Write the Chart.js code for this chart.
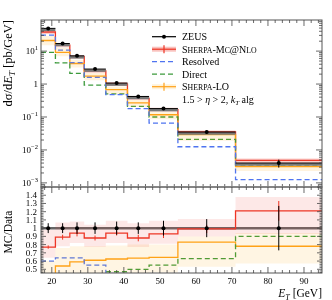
<!DOCTYPE html>
<html lang="en">
<head>
<meta charset="UTF-8">
<title>ZEUS inclusive jet cross section vs E_T</title>
<script src="https://cdn.jsdelivr.net/npm/chart.js"></script>
<style>
  body { margin: 0; background: #fff; }
  #wrap { position: relative; width: 332px; height: 300px; }
  #wrap canvas { position: absolute; left: 0; top: 0; }
</style>
</head>
<body>
<div id="wrap">
  <canvas id="mainChart" width="332" height="300"></canvas>
  <canvas id="ratioChart" width="332" height="300"></canvas>
</div>
<script>
// bin edges in E_T [GeV]
const edges = [17, 21, 25, 29, 35, 41, 47, 55, 71, 95];

// main panel: dsigma/dE_T [pb/GeV]
const zeus     = [49, 17, 7.2, 2.85, 1.07, 0.42, 0.18, 0.035, 0.004];
const zeusErr  = [0.06, 0.06, 0.07, 0.07, 0.08, 0.07, 0.09, 0.11, 0.27]; // relative
const mcnlo    = [38, 15.1, 6.8, 2.5, 1.0, 0.37, 0.167, 0.035, 0.0048];
const mcnloLo  = [33, 13.2, 5.9, 2.2, 0.87, 0.33, 0.146, 0.031, 0.0038];
const mcnloHi  = [41, 16.6, 7.6, 2.8, 1.15, 0.43, 0.19, 0.039, 0.0055];
const resolved = [30.5, 10.7, 4.5, 1.6, 0.48, 0.18, 0.065, 0.0125, 0.00126];
const direct   = [9.2, 4.4, 2.1, 0.93, 0.5, 0.21, 0.1, 0.021, 0.0035];
const sherpaLO = [21, 9.1, 4.2, 1.75, 0.68, 0.27, 0.117, 0.029, 0.0031];
const loLo     = [15, 7, 3.2, 1.3, 0.5, 0.2, 0.085, 0.019, 0.0023];
const loHi     = [29, 12.6, 5.5, 2.2, 0.85, 0.33, 0.145, 0.031, 0.0037];

// ratio panel: MC / Data
const rMcnlo    = [0.77, 0.89, 0.94, 0.88, 0.94, 0.88, 0.93, 0.99, 1.21];
const rMcnloErr = [0.02, 0.03, 0.04, 0.03, 0.03, 0.04, 0.05, 0.05, 0.12];
const rMcnloLo  = [0.64, 0.78, 0.82, 0.77, 0.82, 0.77, 0.81, 0.9, 0.93];
const rMcnloHi  = [0.98, 1.07, 1.08, 1.04, 1.09, 1.06, 1.09, 1.11, 1.38];
const rLO       = [0.42, 0.54, 0.59, 0.61, 0.625, 0.635, 0.645, 0.83, 0.78];
const rLOLo     = [0.3, 0.4, 0.43, 0.44, 0.45, 0.45, 0.46, 0.53, 0.57];
const rLOHi     = [0.6, 0.76, 0.78, 0.78, 0.79, 0.8, 0.8, 0.9, 0.94];
const rResolved = [0.6, 0.64, 0.64, 0.55, 0.45, 0.43, 0.36, 0.36, 0.31];
const rDirect   = [0.19, 0.26, 0.29, 0.33, 0.47, 0.5, 0.55, 0.63, 0.9];

// tick labels
const xTicks = [20, 30, 40, 50, 60, 70, 80, 90];
const yDecades = [-3, -2, -1, 0, 1];
const ratioTicks = [0.5, 0.6, 0.7, 0.8, 0.9, 1.0, 1.1, 1.2, 1.3, 1.4];

const RED = '#ee3322', ORANGE = '#ffa21a', BLUE = '#4f74f0', GREEN = '#3c9a3c';
const SERIF = '"Liberation Serif", "DejaVu Serif", serif';
const f = (size, style) => (style || '') + ' ' + size + 'px ' + SERIF;

// turn bin values into points for a stepped line
function steps(vals) {
  return edges.map((e, i) => ({ x: e, y: vals[Math.min(i, vals.length - 1)] }));
}
function line(vals, color, dash) {
  return { data: steps(vals), borderColor: color, borderWidth: 1.3, borderDash: dash || [],
           stepped: true, pointRadius: 0, fill: false };
}
function band(lo, hi, color) {
  return [
    { data: steps(lo), borderWidth: 0, stepped: true, pointRadius: 0, fill: false },
    { data: steps(hi), borderWidth: 0, stepped: true, pointRadius: 0, fill: '-1', backgroundColor: color }
  ];
}

// text made of runs (italic, sub/superscripts)
function runsWidth(ctx, runs) {
  let w = 0;
  runs.forEach(r => { ctx.font = r.font; w += ctx.measureText(r.t).width; });
  return w;
}
function drawRuns(ctx, runs, x, y, align) {
  const w = runsWidth(ctx, runs);
  let cx = align === 'right' ? x - w : align === 'center' ? x - w / 2 : x;
  ctx.textAlign = 'left';
  ctx.textBaseline = 'alphabetic';
  runs.forEach(r => {
    ctx.font = r.font;
    ctx.fillText(r.t, cx, y + (r.dy || 0));
    cx += ctx.measureText(r.t).width;
  });
}
function smallCaps(parts, size) {
  return parts.map(p => ({ t: p[0], font: f(p[1] ? size * 0.78 : size) }));
}

function tickLine(ctx, x0, y0, x1, y1) {
  ctx.beginPath(); ctx.moveTo(x0, y0); ctx.lineTo(x1, y1); ctx.stroke();
}

function xTicksDraw(ctx, x, a, withTop) {
  ctx.strokeStyle = '#444'; ctx.lineWidth = 0.8;
  for (let v = 18; v <= 94; v += 2) {
    const px = x.getPixelForValue(v);
    const len = v % 10 === 0 ? 6 : 3;
    tickLine(ctx, px, a.bottom, px, a.bottom - len);
    if (withTop) tickLine(ctx, px, a.top, px, a.top + len);
  }
}

const mainPlugin = {
  id: 'mainDecor',
  afterDatasetsDraw(chart) {
    const { ctx, chartArea: a, scales: { x, y } } = chart;
    ctx.save();
    ctx.beginPath(); ctx.rect(a.left, a.top, a.right - a.left, a.bottom - a.top); ctx.clip();
    zeus.forEach((v, i) => {
      const x0 = x.getPixelForValue(edges[i]), x1 = x.getPixelForValue(edges[i + 1]);
      const xc = x.getPixelForValue((edges[i] + edges[i + 1]) / 2);
      const py = y.getPixelForValue(v);
      ctx.strokeStyle = '#777'; ctx.lineWidth = 2.5;
      tickLine(ctx, x0, py + 1.5, x1, py + 1.5);
      ctx.strokeStyle = '#000'; ctx.lineWidth = 1;
      tickLine(ctx, x0, py, x1, py);
      tickLine(ctx, xc, y.getPixelForValue(v * (1 + zeusErr[i])), xc, y.getPixelForValue(v * (1 - zeusErr[i])));
      ctx.fillStyle = '#000';
      ctx.beginPath(); ctx.arc(xc, py, 2, 0, 2 * Math.PI); ctx.fill();
    });
    ctx.restore();
  },
  afterDraw(chart) {
    const { ctx, chartArea: a, scales: { x, y } } = chart;
    ctx.save();
    // frame
    ctx.strokeStyle = '#555'; ctx.lineWidth = 1;
    ctx.strokeRect(a.left, a.top, a.right - a.left, a.bottom - a.top);
    xTicksDraw(ctx, x, a, true);
    // y ticks on both sides
    for (let n = -4; n <= 1; n++) {
      for (let k = 1; k <= 9; k++) {
        const v = k * Math.pow(10, n);
        if (v < y.min || v > y.max) continue;
        const py = y.getPixelForValue(v);
        const len = k === 1 ? 6 : 3;
        tickLine(ctx, a.left, py, a.left + len, py);
        tickLine(ctx, a.right, py, a.right - len, py);
      }
    }
    // y tick labels
    ctx.fillStyle = '#000';
    yDecades.forEach(n => {
      const py = y.getPixelForValue(Math.pow(10, n));
      const runs = n === 0 ? [{ t: '1', font: f(9) }]
        : [{ t: '10', font: f(9) }, { t: (n < 0 ? '\u2212' : '') + Math.abs(n), font: f(6.5), dy: -4 }];
      drawRuns(ctx, runs, 38, py + 3, 'right');
    });
    // y axis title
    ctx.save();
    ctx.translate(12, a.top);
    ctx.rotate(-Math.PI / 2);
    drawRuns(ctx, [
      { t: 'd\u03c3/d', font: f(12.5) }, { t: 'E', font: f(12.5, 'italic') },
      { t: 'T', font: f(9, 'italic'), dy: 2.5 }, { t: ' [pb/GeV]', font: f(12.5) }
    ], 0, 0, 'right');
    ctx.restore();

    // legend
    const lx0 = 152, lx1 = 176, tx = 182, fs = 10;
    const rows = [36.7, 49.2, 61.7, 74.2, 86.7, 99.2];
    ctx.lineWidth = 1.2;
    // ZEUS
    ctx.strokeStyle = '#000';
    tickLine(ctx, lx0, rows[0], lx1, rows[0]);
    ctx.beginPath(); ctx.arc((lx0 + lx1) / 2, rows[0], 2, 0, 2 * Math.PI); ctx.fill();
    // MC@NLO
    ctx.strokeStyle = 'rgba(238,80,70,0.35)'; ctx.lineWidth = 5;
    tickLine(ctx, lx0, rows[1], lx1, rows[1]);
    ctx.strokeStyle = RED; ctx.lineWidth = 1.2;
    tickLine(ctx, lx0, rows[1], lx1, rows[1]);
    tickLine(ctx, (lx0 + lx1) / 2, rows[1] - 4, (lx0 + lx1) / 2, rows[1] + 4);
    // Resolved / Direct
    ctx.setLineDash([5, 3]);
    ctx.strokeStyle = BLUE; tickLine(ctx, lx0, rows[2], lx1, rows[2]);
    ctx.strokeStyle = GREEN; tickLine(ctx, lx0, rows[3], lx1, rows[3]);
    ctx.setLineDash([]);
    // Sherpa LO
    ctx.strokeStyle = 'rgba(255,165,0,0.15)'; ctx.lineWidth = 5;
    tickLine(ctx, lx0, rows[4], lx1, rows[4]);
    ctx.strokeStyle = ORANGE; ctx.lineWidth = 1.2;
    tickLine(ctx, lx0, rows[4], lx1, rows[4]);
    tickLine(ctx, (lx0 + lx1) / 2, rows[4] - 4, (lx0 + lx1) / 2, rows[4] + 4);

    ctx.fillStyle = '#000';
    drawRuns(ctx, [{ t: 'ZEUS', font: f(fs) }], tx, rows[0] + 3.5, 'left');
    drawRuns(ctx, smallCaps([['S', 0], ['HERPA', 1], ['-M', 0], ['C', 1], ['@', 0], ['N', 0], ['LO', 1]], fs), tx, rows[1] + 3.5, 'left');
    drawRuns(ctx, [{ t: 'Resolved', font: f(fs) }], tx, rows[2] + 3.5, 'left');
    drawRuns(ctx, [{ t: 'Direct', font: f(fs) }], tx, rows[3] + 3.5, 'left');
    drawRuns(ctx, smallCaps([['S', 0], ['HERPA', 1], ['-LO', 0]], fs), tx, rows[4] + 3.5, 'left');
    drawRuns(ctx, [
      { t: '1.5 > ', font: f(fs) }, { t: '\u03b7', font: f(fs, 'italic') }, { t: ' > 2, ', font: f(fs) },
      { t: 'k', font: f(fs, 'italic') }, { t: 'T', font: f(7, 'italic'), dy: 2 }, { t: ' alg', font: f(fs) }
    ], tx, rows[5] + 3.5, 'left');
    ctx.restore();
  }
};

const ratioPlugin = {
  id: 'ratioDecor',
  beforeDatasetsDraw(chart) {
    const { ctx, chartArea: a, scales: { x, y } } = chart;
    ctx.save();
    const p1 = y.getPixelForValue(1);
    ctx.strokeStyle = '#666'; ctx.lineWidth = 2.5;
    tickLine(ctx, a.left, p1, a.right, p1);
    ctx.restore();
  },
  afterDatasetsDraw(chart) {
    const { ctx, chartArea: a, scales: { x, y } } = chart;
    ctx.save();
    ctx.beginPath(); ctx.rect(a.left, a.top, a.right - a.left, a.bottom - a.top); ctx.clip();
    rMcnlo.forEach((v, i) => {
      const xc = x.getPixelForValue((edges[i] + edges[i + 1]) / 2);
      ctx.strokeStyle = RED; ctx.lineWidth = 1;
      tickLine(ctx, xc, y.getPixelForValue(v + rMcnloErr[i]), xc, y.getPixelForValue(v - rMcnloErr[i]));
    });
    zeusErr.forEach((e, i) => {
      const xc = x.getPixelForValue((edges[i] + edges[i + 1]) / 2);
      const p1 = y.getPixelForValue(1);
      ctx.strokeStyle = '#000'; ctx.lineWidth = 1;
      tickLine(ctx, xc, y.getPixelForValue(1 + e), xc, y.getPixelForValue(1 - e));
      ctx.fillStyle = '#000';
      ctx.beginPath(); ctx.arc(xc, p1, 2, 0, 2 * Math.PI); ctx.fill();
    });
    ctx.restore();
  },
  afterDraw(chart) {
    const { ctx, chartArea: a, scales: { x, y } } = chart;
    ctx.save();
    ctx.strokeStyle = '#555'; ctx.lineWidth = 1;
    ctx.strokeRect(a.left, a.top, a.right - a.left, a.bottom - a.top);
    // separator between panels
    ctx.strokeStyle = '#888'; ctx.lineWidth = 1.6;
    tickLine(ctx, a.left, a.top, a.right, a.top);
    xTicksDraw(ctx, x, a, true);
    for (let j = 23; j <= 75; j++) {
      const v = j * 0.02;
      if (v < y.min || v > y.max) continue;
      const py = y.getPixelForValue(v);
      const len = j % 5 === 0 ? 5 : 2.5;
      tickLine(ctx, a.left, py, a.left + len, py);
      tickLine(ctx, a.right, py, a.right - len, py);
    }
    ctx.fillStyle = '#000';
    ratioTicks.forEach(v => {
      const py = y.getPixelForValue(v);
      drawRuns(ctx, [{ t: v === 1 ? '1' : v.toFixed(1), font: f(9) }], 37, py + 3, 'right');
    });
    xTicks.forEach(v => {
      drawRuns(ctx, [{ t: String(v), font: f(9) }], x.getPixelForValue(v), a.bottom + 11, 'center');
    });
    // axis titles
    drawRuns(ctx, [
      { t: 'E', font: f(11.5, 'italic') }, { t: 'T', font: f(8, 'italic'), dy: 2.5 }, { t: ' [GeV]', font: f(11.5) }
    ], a.right, 297, 'right');
    ctx.save();
    ctx.translate(12, (a.top + a.bottom) / 2 + 2);
    ctx.rotate(-Math.PI / 2);
    drawRuns(ctx, [{ t: 'MC/Data', font: f(11.5) }], 0, 0, 'center');
    ctx.restore();
    ctx.restore();
  }
};

const common = {
  responsive: false,
  animation: false,
  plugins: { legend: { display: false }, tooltip: { enabled: false } },
  events: []
};

new Chart(document.getElementById('mainChart').getContext('2d'), {
  type: 'line',
  data: {
    datasets: [
      ...band(loLo, loHi, 'rgba(255,165,0,0.13)'),
      ...band(mcnloLo, mcnloHi, 'rgba(238,80,70,0.28)'),
      line(resolved, BLUE, [5, 3]),
      line(direct, GREEN, [5, 3]),
      line(sherpaLO, ORANGE),
      line(mcnlo, RED)
    ]
  },
  options: Object.assign({}, common, {
    layout: { padding: { left: 41, right: 10, top: 20, bottom: 113 } },
    scales: {
      x: { type: 'linear', min: 17, max: 95, display: false },
      y: { type: 'logarithmic', min: 7.5e-4, max: 88, display: false }
    }
  }),
  plugins: [mainPlugin]
});

new Chart(document.getElementById('ratioChart').getContext('2d'), {
  type: 'line',
  data: {
    datasets: [
      ...band(rLOLo, rLOHi, 'rgba(255,165,0,0.11)'),
      ...band(rMcnloLo, rMcnloHi, 'rgba(238,80,70,0.13)'),
      line(rResolved, BLUE, [5, 3]),
      line(rDirect, GREEN, [5, 3]),
      line(rLO, ORANGE),
      line(rMcnlo, RED)
    ]
  },
  options: Object.assign({}, common, {
    layout: { padding: { left: 41, right: 10, top: 187, bottom: 27 } },
    scales: {
      x: { type: 'linear', min: 17, max: 95, display: false },
      y: { type: 'linear', min: 0.455, max: 1.5, display: false }
    }
  }),
  plugins: [ratioPlugin]
});
</script>
</body>
</html>
